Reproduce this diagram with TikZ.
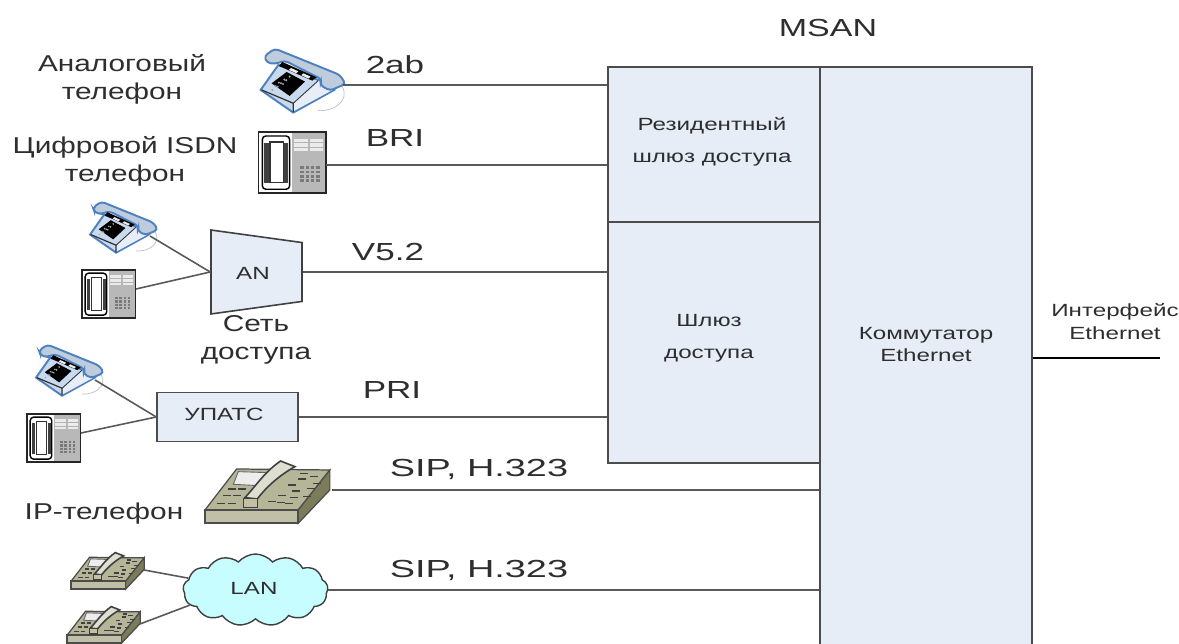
\documentclass[tikz,border=0pt]{standalone}
\usepackage{fontspec}
\setmainfont{Liberation Sans}
\usetikzlibrary{shapes.geometric,shapes.symbols}
\definecolor{blockfill}{HTML}{E6EDF7}
\definecolor{telblue}{HTML}{4F81BD}
\definecolor{telface}{HTML}{C9DAEF}
\definecolor{ipbody}{HTML}{B5B598}
\definecolor{ipdark}{HTML}{7C7C5A}
\definecolor{cloudfill}{HTML}{C8FDFF}
\definecolor{textgray}{HTML}{2E2E2E}
\tikzset{
  block/.style={draw=black!70,line width=0.9pt,fill=blockfill,inner sep=0pt},
  wire/.style={draw=black!65,line width=0.9pt},
  biglbl/.style={font=\fontsize{14}{16}\selectfont,text=textgray,transform shape,xscale=1.42,inner sep=0pt},
  midlbl/.style={font=\fontsize{13}{15.9}\selectfont,text=textgray,align=center,transform shape,xscale=1.3,inner sep=0pt},
  boxlbl/.style={font=\fontsize{10}{18}\selectfont,text=textgray,align=center,transform shape,xscale=1.37,inner sep=0pt},
  swlbl/.style={font=\fontsize{10}{13}\selectfont,text=textgray,align=center,transform shape,xscale=1.37,inner sep=0pt},
  anphone/.pic={
    \draw[black!25,line width=.4pt] (190,212) .. controls (240,215) and (285,180) .. (262,140);
    \draw[telblue,fill=telface,line width=1.1pt] (17,150) -- (115,218) -- (238,150) -- (190,120) -- (70,75) -- cycle;
    \fill[telface!45!white] (117,188) -- (190,122) -- (233,150) -- (117,213) -- cycle;
    \draw[black!80,line width=.7pt] (20,150) -- (115,190) -- (115,216);
    \draw[black!80,line width=.5pt] (115,190) -- (190,122);
    \fill[black] (50,130) -- (95,96) -- (150,125) -- (104,168) -- cycle;
    \foreach \i in {0,1,2} \foreach \j in {0,1,2}
      \fill[black!35] ({72+\i*16+\j*-10},{128+\i*-9+\j*11}) circle (3.4);
    \draw[telblue,fill=telface!85!gray,line width=1.1pt,rounded corners=2pt] (28,48) -- (60,26) -- (255,105) -- (272,132) -- (225,152) -- (195,135) -- (200,118) -- (90,62) -- (60,72) -- (35,68) -- cycle;
    \fill[black] (82,66) -- (185,112) -- (172,122) -- (72,78) -- cycle;
    \fill[white!85!gray] (108,84) -- (130,94) -- (124,100) -- (102,90) -- cycle (145,100) -- (167,110) -- (161,116) -- (139,106) -- cycle;
  },
  isphone/.pic={
    \fill[black!28] (112,14) rectangle (214,194);
    \fill[white] (10,12) rectangle (112,195);
    \draw[black!85,line width=.9pt] (10,12) rectangle (214,195);
    \draw[black,line width=.8pt,rounded corners=2pt] (22,24) -- (104,24) -- (104,184) -- (22,184) -- cycle;
    \fill[black!75] (28,45) rectangle (42,165);
    \fill[black!75] (88,45) rectangle (100,165);
    \draw[black!80,line width=.6pt] (45,42) rectangle (85,165);
    \foreach \x in {118,165} {
      \fill[black!8] (\x,32) rectangle +(40,38);
      \draw[black!30,line width=.3pt] (\x,44) -- +(40,0) (\x,57) -- +(40,0);
    }
    \foreach \x in {136,152,168,184} \foreach \y in {115,128,141,154}
      \fill[black!52] (\x,\y) rectangle +(10,8);
  },
  ipphone/.pic={
    \draw[black!70,fill=ipbody,line width=.7pt] (15,165) -- (110,42) -- (390,45) -- (295,165) -- cycle;
    \draw[black!70,fill=ipdark,line width=.7pt] (295,165) -- (390,45) -- (390,105) -- (295,205) -- cycle;
    \draw[black!70,fill=ipbody!85!white,line width=.9pt] (15,165) rectangle (295,205);
    \draw[black!60,fill=black!7,line width=.5pt] (115,50) -- (205,53) -- (175,92) -- (100,88) -- cycle;
    \foreach \x/\y in {85/102,115/102,70/122,100/122,50/146,85/146,265/90,295/72,235/122,275/108,320/100,230/142,270/128,205/140,255/145,330/65,300/55,340/85,310/125}
      \draw[black!75,line width=.8pt] (\x,\y) -- +(24,0);
    \draw[black!75,fill=ipbody!45!white,line width=.9pt] (135,128) .. controls (170,90) and (195,50) .. (242,18) -- (285,35) .. controls (240,60) and (200,95) .. (172,132) -- cycle;
    \draw[black!75,fill=ipbody!85!white,line width=.8pt] (130,130) rectangle (172,158);
  },
}
\begin{document}
\begin{tikzpicture}[x=0.567pt,y=-0.567pt]
  \useasboundingbox (0,0) rectangle (1179,644);
  % MSAN blocks
  \node[block,minimum width=120.2pt,minimum height=87.9pt] (rgw) at (714,144.5) {};
  \node[block,minimum width=120.2pt,minimum height=136.6pt] (agw) at (714,342.5) {};
  \node[block,minimum width=120.2pt,minimum height=334pt] (sw) at (926,361.5) {};
  \node[biglbl,xscale=.97] (msan) at (828,28) {MSAN};
  \node[boxlbl] (rgwlbl) at (712,142) {Резидентный\\шлюз доступа};
  \node[boxlbl] (agwlbl) at (709,338) {Шлюз\\доступа};
  \node[swlbl] (swlbl) at (926,344.5) {Коммутатор\\Ethernet};
  \node[swlbl] (ethlbl) at (1115,321.5) {Интерфейс\\Ethernet};
  \coordinate (ethend) at (1160,358);
  \draw[wire,draw=black] (ethend -| sw.east) -- (ethend);
  % terminals
  \pic[scale=.333] at (255,40) {anphone};
  \pic[scale=.333] at (255,128) {isphone};
  \pic[scale=.266] at (85.5,194.7) {anphone};
  \pic[scale=.263] at (79.4,266.8) {isphone};
  \pic[scale=.266] at (31.5,337.7) {anphone};
  \pic[scale=.263] at (24.4,410.8) {isphone};
  \pic[scale=.333] at (200,455) {ipphone};
  \pic[scale=.195] at (68.1,549.1) {ipphone};
  \pic[scale=.195] at (64.1,603.1) {ipphone};
  \coordinate (anport) at (343,85);
  \coordinate (isport) at (326,165);
  \coordinate (an1) at (150,236);
  \coordinate (is1) at (136,289);
  \coordinate (an2) at (95,380);
  \coordinate (is2) at (81,433);
  \coordinate (ipport) at (332,490);
  \coordinate (ip1) at (144,570);
  \coordinate (ip2) at (140,624);
  % access nodes
  \node[trapezium,draw=black!75,line width=.9pt,fill=blockfill,trapezium stretches=true,trapezium angle=78,shape border rotate=270,minimum width=47.6pt,minimum height=51.6pt,inner sep=1pt] (an) at (256.5,272) {};
  \node[swlbl] (anlbl) at (253,273) {AN};
  \node[block,line width=.8pt,minimum width=80pt,minimum height=27.8pt] (pbx) at (227.5,417) {};
  \node[swlbl] (pbxlbl) at (224,414) {УПАТС};
  \node[cloud,draw=black!75,line width=.8pt,fill=cloudfill,cloud puffs=13,cloud puff arc=100,aspect=2,minimum width=82.2pt,minimum height=40.8pt,inner sep=1pt] (lan) at (255.5,590) {};
  \node[swlbl] (lanlbl) at (254,588) {LAN};
  % subscriber lines
  \draw[wire] (anport) -- (anport -| rgw.west);
  \draw[wire] (isport) -- (isport -| rgw.west);
  \draw[wire] (an.east) -- (an.east -| agw.west);
  \draw[wire] (pbx.east) -- (pbx.east -| agw.west);
  \draw[wire] (ipport) -- (ipport -| sw.west);
  \draw[wire] (lan.east) -- (lan.east -| sw.west);
  \draw[wire] (an1) -- (an.west);
  \draw[wire] (is1) -- (an.west);
  \draw[wire] (an2) -- (pbx.west);
  \draw[wire] (is2) -- (pbx.west);
  \draw[wire] (ip1) -- (lan.170);
  \draw[wire] (ip2) -- (lan.193);
  % line labels
  \node[biglbl] (l2ab) at (395,65) {2ab};
  \node[biglbl] (lbri) at (395,138) {BRI};
  \node[biglbl] (lv52) at (388,252) {V5.2};
  \node[biglbl] (lpri) at (392,390) {PRI};
  \node[biglbl,xscale=1.08] (lsip1) at (479,469) {SIP, H.323};
  \node[biglbl,xscale=1.08] (lsip2) at (479,570) {SIP, H.323};
  % terminal labels
  \node[midlbl] (antxt) at (122,79) {Аналоговый\\телефон};
  \node[midlbl] (istxt) at (125,161) {Цифровой ISDN\\телефон};
  \node[midlbl] (nettxt) at (256,340) {Сеть\\доступа};
  \node[midlbl] (iptxt) at (104,514) {IP-телефон};
\end{tikzpicture}
\end{document}
